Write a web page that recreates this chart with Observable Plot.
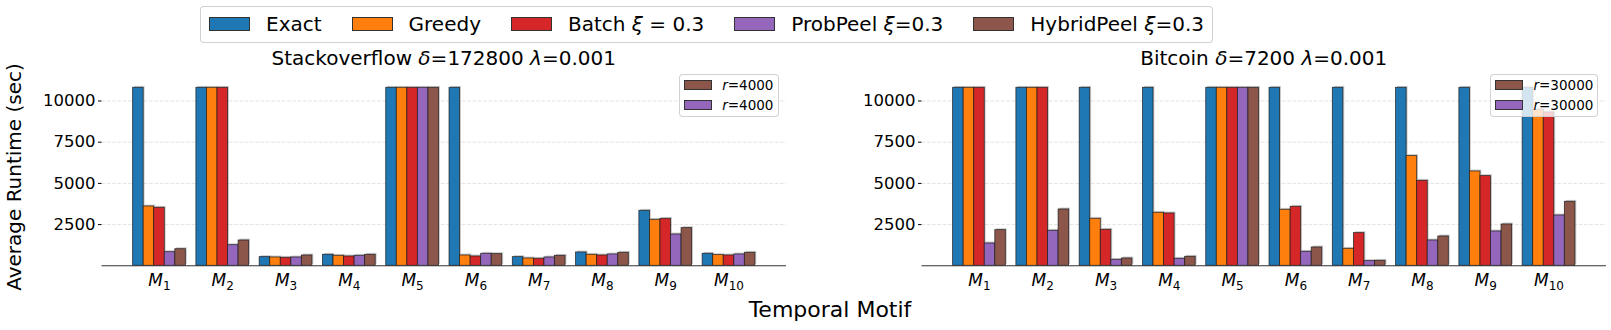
<!DOCTYPE html>
<html><head><meta charset="utf-8">
<script src="https://cdn.jsdelivr.net/npm/d3@7"></script>
<script src="https://cdn.jsdelivr.net/npm/@observablehq/plot@0.6"></script>
<style>
body{margin:0;background:#fff;font-family:"DejaVu Sans",sans-serif;}
#root{position:relative;width:1611px;height:330px;overflow:hidden;background:#fff;}
.abs{position:absolute;white-space:nowrap;color:#000;line-height:1;}
.panel{position:absolute;top:0;}
.legend{position:absolute;box-sizing:border-box;border:1px solid rgba(204,204,204,0.9);border-radius:4px;background:rgba(255,255,255,0.8);}
.patch{box-sizing:border-box;border:1px solid #333;display:inline-block;}
</style></head><body><div id="root"></div>
<script>
// ---------------- data ----------------
const motifs = ["M1","M2","M3","M4","M5","M6","M7","M8","M9","M10"];
const methods = ["Exact","Greedy","Batch ξ = 0.3","ProbPeel ξ=0.3","HybridPeel ξ=0.3"];
const colors = ["#1f77b4","#ff7f0e","#d62728","#9467bd","#8c564b"];
const yTicks = [2500, 5000, 7500, 10000];

// Stackoverflow  δ=172800 λ=0.001
const soExact    = [10800,10800, 526, 667,10800,10800, 526, 809,3337, 728];
const soGreedy   = [ 3600,10800, 506, 607,10800,  627, 445, 667,2790, 647];
const soBatch    = [ 3520,10800, 485, 566,10800,  566, 425, 627,2850, 627];
const soProbPeel = [  825, 1250, 506, 607,10800,  728, 506, 688,1900, 688];
const soHybrid   = [ 1007, 1535, 627, 667,10800,  708, 607, 789,2286, 789];

// Bitcoin  δ=7200 λ=0.001
const btExact    = [10800,10800,10800,10800,10800,10800,10800,10800,10800,10800];
const btGreedy   = [10800,10800, 2852, 3216,10800, 3398, 1031, 6655, 5724, 9466];
const btBatch    = [10800,10800, 2184, 3176,10800, 3580, 1982, 5157, 5441, 9304];
const btProbPeel = [ 1355, 2124,  364,  425,10800,  850,  283, 1537, 2083, 3054];
const btHybrid   = [ 2164, 3418,  445,  546,10800, 1112,  303, 1780, 2508, 3883];

const panels = [
  {name:"Stackoverflow", delta:"172800", lambda:"0.001", r:"4000",
   series:[soExact, soGreedy, soBatch, soProbPeel, soHybrid]},
  {name:"Bitcoin", delta:"7200", lambda:"0.001", r:"30000",
   series:[btExact, btGreedy, btBatch, btProbPeel, btHybrid]}
];

// --------------- drawing ---------------
const root = document.getElementById("root");
const barW = 1 / 6;
const panelLeft = [0, 820];
const W = 786, mL = 101.5, mT = 78.4, H = 300, mB = 34.7;

function el(tag, cls, css, html) {
  const e = document.createElement(tag);
  if (cls) e.className = cls;
  Object.assign(e.style, css || {});
  if (html != null) e.innerHTML = html;
  root.appendChild(e);
  return e;
}
const ital = s => s.replace(/ξ/g, "<i>ξ</i>");

panels.forEach((p, pi) => {
  const rows = [];
  p.series.forEach((vals, k) => vals.forEach((v, i) => rows.push({i, k, method: methods[k], value: v})));
  const x1 = d => d.i + (d.k - 2.5) * barW;
  const x2 = d => d.i + (d.k - 1.5) * barW;
  const svg = Plot.plot({
    width: W, height: H, marginLeft: mL, marginRight: 0, marginTop: mT, marginBottom: mB,
    x: {domain: [-0.9083, 9.9083], axis: null, label: null},
    y: {domain: [0, 11340], axis: null, label: null},
    color: {domain: methods, range: colors},
    style: {fontFamily: "DejaVu Sans", color: "#000", background: "transparent", overflow: "visible"},
    marks: [
      Plot.gridY(yTicks, {stroke: "#b0b0b0", strokeOpacity: 0.45, strokeDasharray: "3.7,1.6", strokeWidth: 0.8}),
      Plot.rect(rows, {x1, x2, y1: 0, y2: "value", fill: "#000", fillOpacity: 0.22, dx: 1.4, dy: -1.4}),
      Plot.rect(rows, {x1, x2, y1: 0, y2: "value", fill: "method", stroke: "#1a1a1a", strokeWidth: 0.8, strokeOpacity: 0.85}),
      Plot.ruleY([0], {stroke: "#333", strokeWidth: 1.1}),
      Plot.axisY({ticks: yTicks, tickFormat: d3.format("d"), tickSize: 3.5, tickPadding: 3, fontSize: 16.5, label: null}),
      Plot.axisX({ticks: d3.range(motifs.length), tickFormat: i => motifs[i], tickSize: 0, tickPadding: 8.5, fontSize: 17, label: null})
    ]
  });
  svg.classList.add("panel");
  svg.style.left = panelLeft[pi] + "px";
  root.appendChild(svg);
  // motif labels: italic M with subscript index
  svg.querySelectorAll('g[aria-label="x-axis tick label"] text').forEach(t => {
    const s = t.textContent;
    t.textContent = "";
    const ns = "http://www.w3.org/2000/svg";
    const a = document.createElementNS(ns, "tspan");
    a.setAttribute("font-style", "italic");
    a.textContent = s[0];
    const b = document.createElementNS(ns, "tspan");
    b.setAttribute("font-size", "12");
    b.setAttribute("dy", "3.3");
    b.textContent = s.slice(1);
    t.appendChild(a); t.appendChild(b);
  });

  // panel title
  const cx = panelLeft[pi] + (mL + W) / 2;
  el("div", "abs", {left: cx + "px", top: (65 - 16.9) + "px", fontSize: "20px", transform: "translateX(-50%)"},
     `${p.name} <i>δ</i>=${p.delta} <i>λ</i>=${p.lambda}`);

  // inner legend (r=...)
  const lw = pi === 0 ? 100.3 : 108.3;
  const lx = pi === 0 ? 678.7 : 1490;
  const lg = el("div", "legend", {left: lx + "px", top: "74px", width: lw + "px", height: "43.3px"});
  [[4, 0], [3, 20]].forEach(([k, dy]) => {
    const pa = document.createElement("div");
    pa.className = "patch";
    Object.assign(pa.style, {position: "absolute", left: "4.3px", top: (5 + dy) + "px", width: "27.7px", height: "10px", background: colors[k]});
    lg.appendChild(pa);
    const tx = document.createElement("div");
    tx.className = "abs";
    Object.assign(tx.style, {left: "42.5px", top: (3.6 + dy) + "px", fontSize: "13.5px"});
    tx.innerHTML = `<i>r</i>=${p.r}`;
    lg.appendChild(tx);
  });
});

// top legend
const topLegend = el("div", "legend", {left: "200px", top: "5.7px", width: "1013px", height: "37px",
  display: "flex", justifyContent: "space-between", alignItems: "center", padding: "0 8px", background: "#fff"});
methods.forEach((m, k) => {
  const it = document.createElement("div");
  Object.assign(it.style, {display: "flex", alignItems: "center", fontSize: "20px", whiteSpace: "nowrap"});
  it.innerHTML = `<span class="patch" style="width:41px;height:14px;background:${colors[k]};margin-right:16px"></span><span>${ital(m)}</span>`;
  topLegend.appendChild(it);
});

// axis titles
el("div", "abs", {left: "14px", top: "177px", fontSize: "20px", transform: "translate(-50%,-50%) rotate(-90deg)"}, "Average Runtime (sec)");
el("div", "abs", {left: "830px", top: (318 - 18.6) + "px", fontSize: "22px", transform: "translateX(-50%)"}, "Temporal Motif");
</script></body></html>
